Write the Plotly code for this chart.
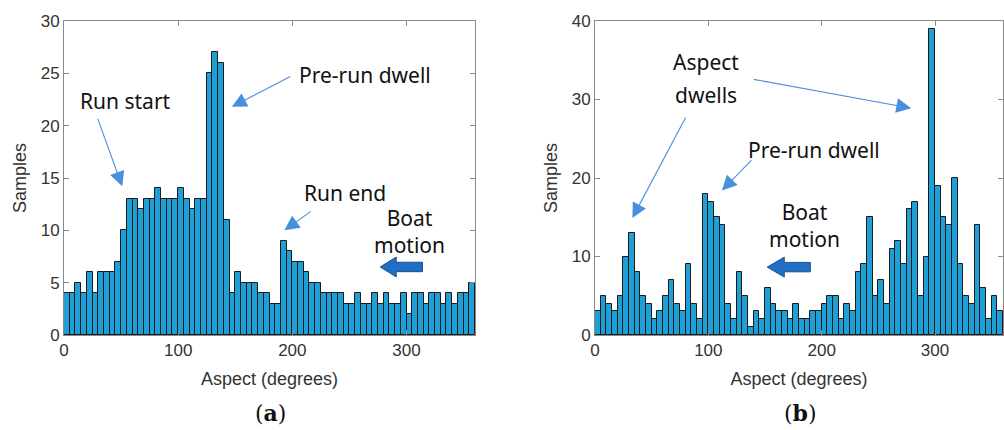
import numpy as np
import plotly.graph_objects as go
from plotly.subplots import make_subplots

bin_edges = list(range(0, 361, 5))
bin_centers = [(a + b) / 2 for a, b in zip(bin_edges[:-1], bin_edges[1:])]

counts_a = [4, 4, 5, 4, 6, 4, 6, 6, 6, 7, 10,
            13, 13, 12, 13, 13, 14, 13, 13, 13, 14, 13, 12, 13, 13, 25, 27, 26,
            11, 4, 6, 5, 5, 5, 4, 4, 3, 3,
            9, 8, 7, 7, 6, 5, 5, 4, 4, 4, 4, 3, 3, 4, 3, 3, 4, 3, 4, 3, 3, 4, 2,
            4, 4, 3, 4, 4, 3, 4, 3, 4, 4, 5]
counts_b = [3, 5, 4, 3, 5, 10, 13, 8, 5, 4, 2, 3, 5, 7, 4, 3, 9, 4, 2, 18, 17, 15,
            14, 4, 2, 8, 5, 1, 3, 2, 6, 4, 3, 3, 2, 4,
            2, 2, 3, 3, 4, 5, 5, 2, 4, 3, 8, 9, 15, 5, 7, 4, 11, 12, 9, 16, 17, 5,
            10, 39, 19, 15, 14, 20, 9, 5, 4, 14, 6, 2, 5, 3]

x_ticks = [0, 100, 200, 300]
y_ticks_a = [0, 5, 10, 15, 20, 25, 30]
y_ticks_b = [0, 10, 20, 30, 40]

BAR = "#1E9FD6"
AX = "#8a8a8a"
TXT = "#333333"
ANN_FONT = dict(family="Noto Sans", size=21, color="#111111")
ARROW = "#4a8fdc"

fig = make_subplots(rows=1, cols=2, horizontal_spacing=0.1)
fig.add_trace(go.Bar(x=bin_centers, y=counts_a, width=5, marker=dict(color=BAR, line=dict(color="#1a1a1a", width=1)), showlegend=False), 1, 1)
fig.add_trace(go.Bar(x=bin_centers, y=counts_b, width=5, marker=dict(color=BAR, line=dict(color="#1a1a1a", width=1)), showlegend=False), 1, 2)

L, R, T, B = 64, 1, 21, 95
W = 1004 - L - R
H = 430 - T - B
fig.update_layout(
    width=1004, height=430, margin=dict(l=L, r=R, t=T, b=B),
    paper_bgcolor="white", plot_bgcolor="white", bargap=0,
    font=dict(family="Liberation Sans", size=16, color=TXT),
)
axis_common = dict(showline=True, mirror="allticks", linecolor=AX, linewidth=1, ticks="inside",
                   ticklen=5, tickcolor=AX, showgrid=False, zeroline=False,
                   tickfont=dict(family="Liberation Sans", size=17, color=TXT))
fig.update_xaxes(**axis_common, range=[0, 360], tickvals=x_ticks,
                 title=dict(text="Aspect (degrees)", font=dict(family="Liberation Sans", size=18, color=TXT), standoff=12))
fig.update_xaxes(domain=[0, 411 / W], row=1, col=1)
fig.update_xaxes(domain=[531 / W, 1], row=1, col=2)
fig.update_yaxes(**axis_common, title=dict(text="Samples", font=dict(family="Liberation Sans", size=18, color=TXT), standoff=9))
fig.update_yaxes(range=[0, 30], tickvals=y_ticks_a, row=1, col=1)
fig.update_yaxes(range=[0, 40], tickvals=y_ticks_b, row=1, col=2)


def arrow(xref, yref, x, y, ax, ay):
    fig.add_annotation(xref=xref, yref=yref, x=x, y=y, ax=ax, ay=ay, text="", showarrow=True,
                       arrowhead=2, arrowsize=2.7, arrowwidth=1.1, arrowcolor=ARROW)


def label(xref, yref, x, y, text):
    fig.add_annotation(xref=xref, yref=yref, x=x, y=y, text=text, showarrow=False, font=ANN_FONT)


# panel (a) : x px = 64 + deg*1.142 ; y px = 335 - v*10.47
label("x", "y", 54, 22.4, "Run start")
arrow("x", "y", 51, 14.2, -25, -69)
label("x", "y", 264, 24.8, "Pre-run dwell")
arrow("x", "y", 147, 21.8, 60, -31)
label("x", "y", 246, 13.6, "Run end")
arrow("x", "y", 193, 10.0, 28, -20)
label("x", "y", 303, 9.9, "Boat<br>motion")

# panel (b) : x px = 595 + deg*1.134 ; y px = 335 - v*7.85
label("x2", "y2", 98, 34.8, "Aspect")
label("x2", "y2", 98, 30.6, "dwells")
arrow("x2", "y2", 33, 14.9, 54, -102)
arrow("x2", "y2", 279, 28.9, -159, -29)
label("x2", "y2", 193, 23.6, "Pre-run dwell")
arrow("x2", "y2", 112, 18.4, 31, -32)
label("x2", "y2", 185, 14.0, "Boat<br>motion")

# big block arrows (Boat motion)
def block_arrow(xref, yref, x_tip, x_base, x_end, y_mid, head_h, shaft_h):
    path = (f"M {x_tip},{y_mid} L {x_base},{y_mid + head_h} L {x_base},{y_mid + shaft_h} "
            f"L {x_end},{y_mid + shaft_h} L {x_end},{y_mid - shaft_h} L {x_base},{y_mid - shaft_h} "
            f"L {x_base},{y_mid - head_h} Z")
    fig.add_shape(type="path", xref=xref, yref=yref, path=path, fillcolor="#1F6FC4",
                  line=dict(color="#1A4F8F", width=1))

block_arrow("x", "y", 277, 291, 314, 6.5, 0.95, 0.45)
block_arrow("x2", "y2", 152, 167, 190, 8.65, 1.27, 0.6)

# captions
cap_y = -(413 - 335) / H
fig.add_annotation(xref="paper", yref="paper", x=206 / W, y=cap_y, yanchor="middle", xanchor="center",
                   text="(<b>a</b>)", showarrow=False, font=dict(family="DejaVu Serif", size=22, color="#111"))
fig.add_annotation(xref="paper", yref="paper", x=736 / W, y=cap_y, yanchor="middle", xanchor="center",
                   text="(<b>b</b>)", showarrow=False, font=dict(family="DejaVu Serif", size=22, color="#111"))

fig.write_html("out.html")
